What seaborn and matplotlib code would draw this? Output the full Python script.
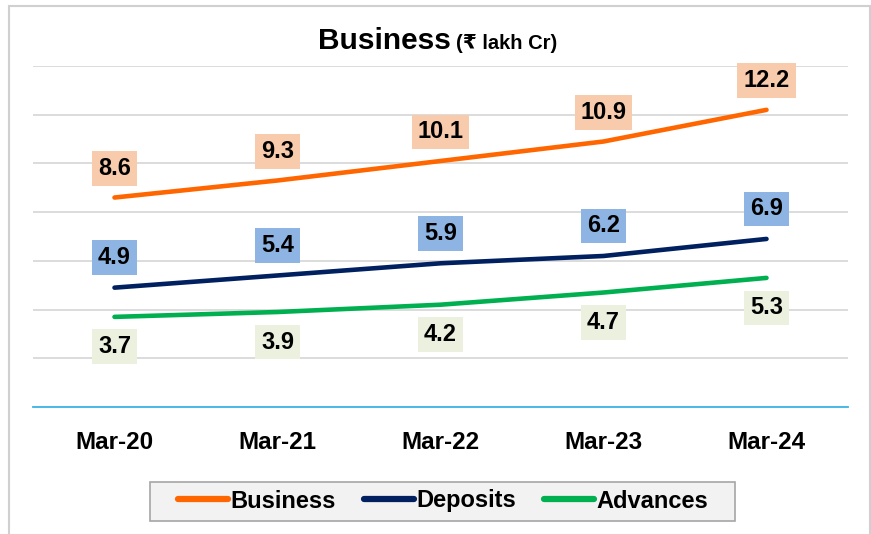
import pandas as pd
import matplotlib
matplotlib.use("Agg")
import matplotlib.pyplot as plt
from matplotlib.patches import Rectangle
import seaborn as sns

# Dados
years    = ["Mar-20", "Mar-21", "Mar-22", "Mar-23", "Mar-24"]
business = [8.6, 9.3, 10.1, 10.9, 12.2]
deposits = [4.9, 5.4, 5.9, 6.2, 6.9]
advances = [3.7, 3.9, 4.2, 4.7, 5.3]

series_names  = ["Business", "Deposits", "Advances"]
line_colors   = ["#FF6600", "#002060", "#00B050"]
label_colors  = ["#F8CBAD", "#8DB4E2", "#EBF1DE"]
label_offsets = [29, 30, -30]   # px, acima / abaixo da linha

df = pd.DataFrame({
    "year":   years * 3,
    "value":  business + deposits + advances,
    "series": [s for s in series_names for _ in years],
})

sns.set_style("white")
plt.rcParams["font.family"] = ["Liberation Sans", "DejaVu Sans"]
plt.rcParams["font.weight"] = "bold"
plt.rcParams["text.color"] = "black"
plt.rcParams["xtick.color"] = "black"

fig = plt.figure(figsize=(8.71, 5.34), dpi=100)
ax = fig.add_axes([33/871, 1 - 407/534, 815/871, 341/534])

sns.lineplot(data=df, x="year", y="value", hue="series", hue_order=series_names,
             palette=line_colors, linewidth=3.3, solid_capstyle="round", ax=ax)

ax.set_xlim(-0.5, 4.5)
ax.set_ylim(0, 14)
ax.set_yticks(range(0, 15, 2))
ax.yaxis.grid(True, color="#D9D9D9", linewidth=1.3)
ax.set_axisbelow(True)
ax.tick_params(axis="y", left=False, labelleft=False)
ax.tick_params(axis="x", bottom=False, pad=14, labelsize=17.5)
for lbl in ax.get_xticklabels():
    lbl.set_fontweight("bold")
ax.set_xlabel("")
ax.set_ylabel("")
for side in ["top", "left", "right"]:
    ax.spines[side].set_visible(False)
ax.spines["bottom"].set_color("#3CB4E5")
ax.spines["bottom"].set_linewidth(1.3)

# Rótulos de dados
for vals, name, bg, off in zip([business, deposits, advances], series_names,
                               label_colors, label_offsets):
    for i, v in enumerate(vals):
        ax.annotate(f"{v:.1f}", (i, v), xytext=(0, off), textcoords="offset pixels",
                    ha="center", va="center", fontsize=17, fontweight="bold",
                    color="black",
                    bbox=dict(boxstyle="square,pad=0.25", facecolor=bg, edgecolor="none"))

# Título
fig.text(451/871, 1 - 49/534, "Business", ha="right", va="baseline",
         fontsize=21.5, fontweight="bold")
fig.text(456/871, 1 - 49/534, "(₹ lakh Cr)", ha="left", va="baseline",
         fontsize=14.5, fontweight="bold")

# Legenda
handles, labels = ax.get_legend_handles_labels()
ax.get_legend().remove()
leg = fig.legend(handles, labels, loc="center", bbox_to_anchor=(443/871, 1 - 501/534),
                 ncol=3, frameon=False, fontsize=17, handlelength=2.1,
                 handletextpad=0.1, columnspacing=1.2)
for t in leg.get_texts():
    t.set_fontweight("bold")
for h in leg.legend_handles:
    h.set_linewidth(4.5)
    h.set_solid_capstyle("round")
fig.patches.append(Rectangle((150/871, 1 - 521/534), 585/871, 39/534,
                             transform=fig.transFigure, facecolor="#F2F2F2",
                             edgecolor="#A6A6A6", linewidth=1.2, zorder=0))

# Moldura do gráfico
fig.patches.append(Rectangle((9/871, -0.1), 861/871, 1.1 - 6/534, transform=fig.transFigure,
                             fill=False, edgecolor="#D0D0D0", linewidth=1.5))

plt.savefig("out.png", dpi=100)
